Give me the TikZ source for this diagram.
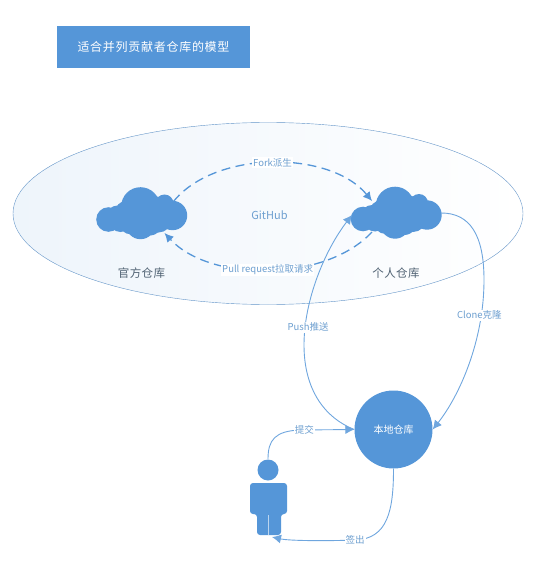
\documentclass[tikz,border=0pt]{standalone}
\usepackage{fontspec}
\setmainfont{Noto Sans CJK SC}
\usetikzlibrary{arrows.meta}
\definecolor{repoblue}{HTML}{5596D8}
\definecolor{lineblue}{HTML}{6FA6DE}
\definecolor{textblue}{HTML}{6D9FD0}
\definecolor{tagdark}{HTML}{4F6172}
\newcommand{\cloudlobes}[1]{%
    \foreach \cx/\cy/\cr in {-33/6/12.3, -1/-7/19.3, 23/-10/9, 31/2/14.7, -1/11/14.7, 17/6/13, -21/7/11.5, -14/0/13, 14/-3/14, 8/8/14, -10/8/13, -24/3/11}
        \fill[repoblue] ([shift={(\cx, \cy)}]#1.center) circle (\cr pt);
}
\tikzset{
    repobox/.style={minimum width=90pt, minimum height=52pt, inner sep=0pt},
    flow/.style={draw=lineblue, line width=0.9pt, -{Latex[length=9pt,width=9pt]}},
    dashflow/.style={draw=repoblue, line width=1.3pt, dash pattern=on 9pt off 5.5pt, -{Latex[length=9pt,width=9pt]}},
    tag/.style={font=\fontsize{9.5pt}{11pt}\selectfont, text=textblue, fill=white, inner sep=1pt},
    repotag/.style={font=\fontsize{11.5pt}{13pt}\selectfont\addfontfeature{LetterSpace=4}, text=tagdark}
}
\begin{document}
\begin{tikzpicture}[x=1pt, y=-1pt]
    \useasboundingbox (0, 0) rectangle (539, 569);
    \node[fill=repoblue, minimum width=193pt, minimum height=42pt, text=white, font=\fontsize{12pt}{14pt}\selectfont\addfontfeature{LetterSpace=6}] (title) at (153.5, 47) {适合并列贡献者仓库的模型};
    \draw[draw=lineblue!90!black, left color=repoblue!10, middle color=white, right color=white] (268, 213.5) ellipse [x radius=255, y radius=91];
    \node[repobox] (official) at (141.5, 213.5) {};
    \node[repobox] (personal) at (396, 213) {};
    \cloudlobes{official}
    \cloudlobes{personal}
    \node[circle, fill=repoblue, minimum size=78pt, inner sep=0pt, text=white, font=\fontsize{10pt}{12pt}\selectfont] (local) at (393.5, 429.5) {本地仓库};
    \node[text=textblue, font=\fontsize{11pt}{13pt}\selectfont] (github) at (269.5, 215) {GitHub};
    \node[repotag] (officialtag) at (141.5, 273) {官方仓库};
    \node[repotag] (personaltag) at (396, 273) {个人仓库};
    % person
    \fill[repoblue] (268, 470) circle (10.5pt);
    \fill[repoblue, rounded corners=3pt] (250, 483) -- (287, 483) -- (287, 514) -- (281, 514) -- (281, 535) -- (257, 535) -- (257, 514) -- (250, 514) -- cycle;
    \draw[white!60!repoblue, line width=0.5pt] (268.5, 515) -- (268.5, 535);
    \coordinate (head) at (268, 459);
    \coordinate (foot) at (272, 537);
    \draw[dashflow] ([shift={(32, -12)}]official.center) .. controls (215, 150) and (330, 150) .. ([shift={(-24, -12)}]personal.center) node[pos=0.5, tag] (fork) {Fork派生};
    \draw[dashflow] ([shift={(-24, 19)}]personal.center) .. controls (325, 282.5) and (210, 282.5) .. ([shift={(23, 19.5)}]official.center) node[pos=0.5, tag] (pull) {Pull request拉取请求};
    \draw[flow] (local.west) .. controls (325, 418) and (304, 390) .. (304, 345) .. controls (304, 300) and (325, 250) .. ([shift={(-44, 2)}]personal.center) node[pos=0.13, tag, xshift=3pt] (push) {Push推送};
    \draw[flow] (personal.east) .. controls (470, 213) and (484, 235) .. (484, 280) .. controls (484, 340) and (460, 395) .. (local.east) node[pos=0.2, tag, xshift=-2pt] (clone) {Clone克隆};
    \draw[flow] (head) .. controls (268, 440) and (275, 431) .. (300, 430) -- (local.west) node[pos=0.08, tag] (commit) {提交};
    \draw[flow] (local.south) .. controls (393.5, 510) and (388, 539) .. (355, 540) .. controls (330, 541) and (290, 541) .. (foot) node[pos=0, tag] (checkout) {签出};
\end{tikzpicture}
\end{document}
